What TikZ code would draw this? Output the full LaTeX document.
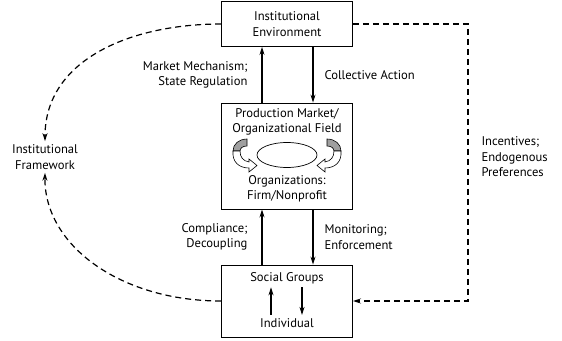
\documentclass[tikz,border=0pt]{standalone}
\usepackage{fontspec}
\setmainfont{PT Sans}
\usetikzlibrary{arrows.meta}

\tikzset{
  box/.style={draw, line width=0.9pt, minimum width=131pt, align=center, inner sep=0pt},
  flow/.style={-{Stealth[length=8pt,width=5pt]}, line width=1.1pt},
  link/.style={flow, line width=1.2pt, dash pattern=on 6pt off 4pt},
  swirlgray/.style={draw, line width=0.6pt, fill=gray!75},
  swirlwhite/.style={draw, line width=0.6pt, fill=white},
}

\begin{document}
\begin{tikzpicture}[x=1pt, y=-1pt, font=\fontsize{12.6}{15.5}\selectfont]
\useasboundingbox (0,0) rectangle (562,340);

% boxes
\node[box, minimum height=45pt] (env) at (287,24) {Institutional\\Environment};
\node[box, minimum height=106pt] (field) at (287,156) {};
\node[box, minimum height=72pt] (group) at (287,301) {};

% texts inside the boxes
\node[align=center] (fieldtop) at (287,122) {Production Market/\\Organizational Field};
\node[align=center] (fieldbot) at (287,189) {Organizations:\\Firm/Nonprofit};
\node (social) at (287,278) {Social Groups};
\node (indiv) at (287,323) {Individual};
\draw[line width=0.7pt] (287,155) ellipse (30 and 12.5);

% swirls round the ellipse
\draw[swirlgray] (247,139) .. controls (239,139) and (233,144) .. (233,151)
  -- (240,151) .. controls (240,148) and (243,146) .. (247,146) -- cycle;
\draw[swirlwhite] (233,151) .. controls (232,162) and (239,168) .. (249,168)
  -- (249,172) -- (257,165.5) -- (249,159) -- (249,162)
  .. controls (243,161) and (240,157) .. (240,151) -- cycle;
\begin{scope}[shift={(574,0)}, xscale=-1]
\draw[swirlgray] (247,139) .. controls (239,139) and (233,144) .. (233,151)
  -- (240,151) .. controls (240,148) and (243,146) .. (247,146) -- cycle;
\draw[swirlwhite] (233,151) .. controls (232,162) and (239,168) .. (249,168)
  -- (249,172) -- (257,165.5) -- (249,159) -- (249,162)
  .. controls (243,161) and (240,157) .. (240,151) -- cycle;
\end{scope}

% solid arrows between the boxes
\draw[flow] ([xshift=-25pt]field.north) -- ([xshift=-25pt]env.south);
\draw[flow] ([xshift=26pt]env.south) -- ([xshift=26pt]field.north);
\draw[flow] ([xshift=-25pt]group.north) -- ([xshift=-25pt]field.south);
\draw[flow] ([xshift=26pt]field.south) -- ([xshift=26pt]group.north);
\draw[flow] (indiv.north -| 271,0) -- (social.south -| 271,0);
\draw[flow] (social.south -| 302,0) -- (indiv.north -| 302,0);

% labels
\node[anchor=east, align=right] (mech) at (251,75) {Market Mechanism;\\State Regulation};
\node[anchor=west, align=left] (collect) at (321,75) {Collective Action};
\node[anchor=east, align=right] (comply) at (251,237) {Compliance;\\Decoupling};
\node[anchor=west, align=left] (monitor) at (321,237) {Monitoring;\\Enforcement};
\node[anchor=west, align=left] (incent) at (478,157) {Incentives;\\Endogenous\\Preferences};
\node[align=center] (frame) at (45,157) {Institutional\\Framework};

% dashed links
\coordinate (turnup) at (468,24);
\coordinate (turndown) at (468,301);
\draw[link] (env.east) -- (turnup) -- (turndown) -- (group.east);
\draw[link] (env.west) .. controls (130,24) and (45,60) .. (frame.north);
\draw[link] (group.west) .. controls (120,301) and (44,245) .. (frame.south);
\end{tikzpicture}
\end{document}
